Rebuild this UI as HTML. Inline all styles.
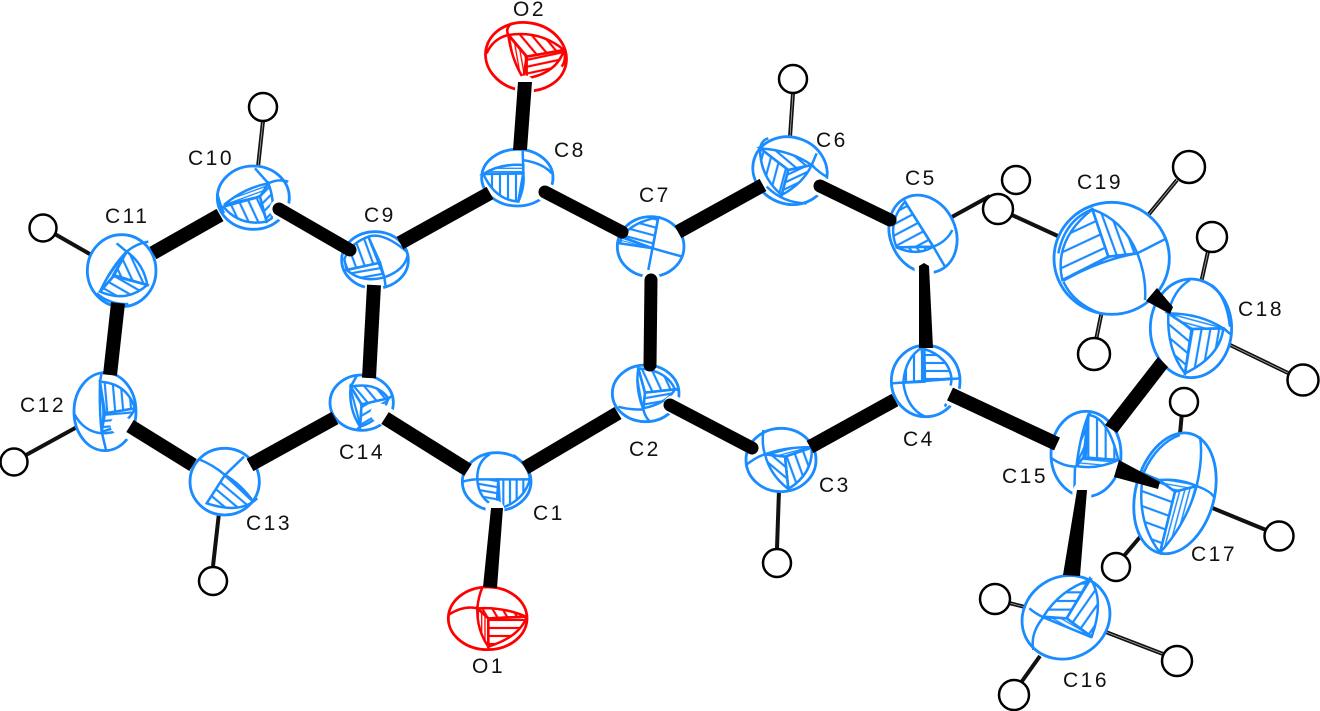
<!DOCTYPE html>
<html><head><meta charset="utf-8"><style>
html,body{margin:0;padding:0;background:#fff}
svg{display:block}
text{font-family:"Liberation Sans",sans-serif;font-size:21px;letter-spacing:2.5px;fill:#111}
.a{fill:#fff;stroke:#1a8cff;stroke-width:8.5}
.a path{stroke-width:7.5}
.o{fill:#fff;stroke:#f00;stroke-width:8.5}
.o path{stroke-width:7.5}
.n{fill:none}
.h circle{fill:#fff;stroke:#000;stroke-width:2.5}
.hb line{stroke:#111;stroke-width:4}
.hi line{stroke:#aaa;stroke-width:.8}
.b line{stroke:#000;stroke-width:14}
.g line{stroke:#000;stroke-width:13;stroke-linecap:round}
.gw line{stroke:#fff;stroke-width:19;stroke-linecap:round}
</style></head><body>
<svg width="1320" height="711" viewBox="0 0 1320 711" xmlns="http://www.w3.org/2000/svg">
<defs>
<g fill="none" stroke="#1a8cff" stroke-width="6.5">
<pattern id="a0" width="24" height="24" patternUnits="userSpaceOnUse"><path d="M0 12H24"/></pattern>
<pattern id="a90" width="24" height="24" patternUnits="userSpaceOnUse" patternTransform="rotate(90)"><path d="M0 12H24"/></pattern>
<pattern id="d15" width="10" height="10" patternUnits="userSpaceOnUse" patternTransform="rotate(-15)"><path d="M0 5H10" stroke-width="4"/></pattern>
<pattern id="a70" width="26" height="26" patternUnits="userSpaceOnUse" patternTransform="rotate(70)"><path d="M0 13H26"/></pattern>
<pattern id="a40" width="24" height="24" patternUnits="userSpaceOnUse" patternTransform="rotate(40)"><path d="M0 12H24"/></pattern>
<pattern id="a65" width="26" height="26" patternUnits="userSpaceOnUse" patternTransform="rotate(65)"><path d="M0 13H26"/></pattern>
<pattern id="m10" width="18" height="18" patternUnits="userSpaceOnUse" patternTransform="rotate(-10)"><path d="M0 9H18"/></pattern>
<pattern id="d80" width="12" height="12" patternUnits="userSpaceOnUse" patternTransform="rotate(80)"><path d="M0 6H12" stroke-width="4"/></pattern>
<pattern id="a50" width="24" height="24" patternUnits="userSpaceOnUse" patternTransform="rotate(50)"><path d="M0 12H24"/></pattern>
<pattern id="n30" width="22" height="22" patternUnits="userSpaceOnUse" patternTransform="rotate(-30)"><path d="M0 11H22"/></pattern>
<pattern id="m75" width="18" height="18" patternUnits="userSpaceOnUse" patternTransform="rotate(75)"><path d="M0 9H18"/></pattern>
<pattern id="n50" width="24" height="24" patternUnits="userSpaceOnUse" patternTransform="rotate(-50)"><path d="M0 12H24"/></pattern>
<pattern id="p10" width="18" height="18" patternUnits="userSpaceOnUse" patternTransform="rotate(10)"><path d="M0 9H18"/></pattern>
<pattern id="v20" width="20" height="20" patternUnits="userSpaceOnUse" patternTransform="rotate(90)"><path d="M0 10H20"/></pattern>
<pattern id="h10" width="10" height="10" patternUnits="userSpaceOnUse"><path d="M0 5H10" stroke-width="4"/></pattern>
<pattern id="d100" width="10" height="10" patternUnits="userSpaceOnUse" patternTransform="rotate(100)"><path d="M0 5H10" stroke-width="4"/></pattern>
<pattern id="a15" width="24" height="24" patternUnits="userSpaceOnUse" patternTransform="rotate(15)"><path d="M0 12H24"/></pattern>
<pattern id="e15" width="8" height="8" patternUnits="userSpaceOnUse" patternTransform="rotate(15)"><path d="M0 4H8" stroke-width="3"/></pattern>
<pattern id="n25" width="18" height="18" patternUnits="userSpaceOnUse" patternTransform="rotate(-25)"><path d="M0 9H18"/></pattern>
<pattern id="a105" width="26" height="26" patternUnits="userSpaceOnUse" patternTransform="rotate(105)"><path d="M0 13H26"/></pattern>
<pattern id="n28" width="30" height="30" patternUnits="userSpaceOnUse" patternTransform="rotate(-28)"><path d="M0 15H30"/></pattern>
<pattern id="q50" width="18" height="18" patternUnits="userSpaceOnUse" patternTransform="rotate(50)"><path d="M0 9H18"/></pattern>
<pattern id="d20" width="10" height="10" patternUnits="userSpaceOnUse" patternTransform="rotate(-20)"><path d="M0 5H10" stroke-width="4"/></pattern>
<pattern id="n45" width="20" height="20" patternUnits="userSpaceOnUse" patternTransform="rotate(-45)"><path d="M0 10H20"/></pattern>
<pattern id="d55" width="10" height="10" patternUnits="userSpaceOnUse" patternTransform="rotate(-55)"><path d="M0 5H10" stroke-width="4"/></pattern>
<pattern id="a30" width="24" height="24" patternUnits="userSpaceOnUse" patternTransform="rotate(30)"><path d="M0 12H24"/></pattern>
<pattern id="a85" width="24" height="24" patternUnits="userSpaceOnUse" patternTransform="rotate(85)"><path d="M0 12H24"/></pattern>
<pattern id="m5" width="18" height="18" patternUnits="userSpaceOnUse" patternTransform="rotate(-5)"><path d="M0 9H18"/></pattern>
<pattern id="e90" width="8" height="8" patternUnits="userSpaceOnUse" patternTransform="rotate(90)"><path d="M0 4H8" stroke-width="3"/></pattern>
<pattern id="n65" width="18" height="18" patternUnits="userSpaceOnUse" patternTransform="rotate(-65)"><path d="M0 9H18"/></pattern>
<pattern id="v26" width="26" height="26" patternUnits="userSpaceOnUse" patternTransform="rotate(90)"><path d="M0 13H26"/></pattern>
<pattern id="f5" width="12" height="12" patternUnits="userSpaceOnUse" patternTransform="rotate(5)"><path d="M0 6H12" stroke-width="4"/></pattern>
<pattern id="h26" width="26" height="26" patternUnits="userSpaceOnUse"><path d="M0 13H26"/></pattern>
<pattern id="n55" width="30" height="30" patternUnits="userSpaceOnUse" patternTransform="rotate(-55)"><path d="M0 15H30"/></pattern>
<pattern id="f30" width="12" height="12" patternUnits="userSpaceOnUse" patternTransform="rotate(30)"><path d="M0 6H12" stroke-width="4"/></pattern>
<pattern id="w20" width="42" height="42" patternUnits="userSpaceOnUse" patternTransform="rotate(20)"><path d="M0 21H42"/></pattern>
<pattern id="n75" width="14" height="14" patternUnits="userSpaceOnUse" patternTransform="rotate(-75)"><path d="M0 7H14" stroke-width="4.5"/></pattern>
<pattern id="f10" width="12" height="12" patternUnits="userSpaceOnUse" patternTransform="rotate(10)"><path d="M0 6H12" stroke-width="4"/></pattern>
<pattern id="g15" width="14" height="14" patternUnits="userSpaceOnUse" patternTransform="rotate(15)"><path d="M0 7H14" stroke-width="4.5"/></pattern>
<pattern id="w40" width="30" height="30" patternUnits="userSpaceOnUse" patternTransform="rotate(40)"><path d="M0 15H30"/></pattern>
<pattern id="a100" width="26" height="26" patternUnits="userSpaceOnUse" patternTransform="rotate(100)"><path d="M0 13H26"/></pattern>
<pattern id="n25w" width="42" height="42" patternUnits="userSpaceOnUse" patternTransform="rotate(-25)"><path d="M0 21H42"/></pattern>
<pattern id="a70b" width="26" height="26" patternUnits="userSpaceOnUse" patternTransform="rotate(70)"><path d="M0 13H26"/></pattern>
</g>
<g fill="none" stroke="#f00" stroke-width="6.5">
<pattern id="r60" width="26" height="26" patternUnits="userSpaceOnUse" patternTransform="rotate(60)"><path d="M0 13H26"/></pattern>
<pattern id="r0" width="24" height="24" patternUnits="userSpaceOnUse"><path d="M0 12H24"/></pattern>
<pattern id="r90" width="10" height="10" patternUnits="userSpaceOnUse" patternTransform="rotate(90)"><path d="M0 5H10" stroke-width="4"/></pattern>
<pattern id="r50" width="26" height="26" patternUnits="userSpaceOnUse" patternTransform="rotate(50)"><path d="M0 13H26"/></pattern>
<pattern id="r12" width="20" height="20" patternUnits="userSpaceOnUse" patternTransform="rotate(-12)"><path d="M0 10H20"/></pattern>
<pattern id="r80" width="12" height="12" patternUnits="userSpaceOnUse" patternTransform="rotate(80)"><path d="M0 6H12" stroke-width="4"/></pattern>
</g>
</defs>
<rect width="1320" height="711" fill="#fff"/>

<g class="hb">
<line x1="793" y1="93" x2="790" y2="137"/><line x1="263" y1="121" x2="258" y2="167"/><line x1="53" y1="233" x2="95" y2="257"/><line x1="26" y1="455" x2="77" y2="427"/><line x1="213" y1="566" x2="219" y2="513"/><line x1="777" y1="548" x2="779" y2="490"/><line x1="950" y1="218" x2="990" y2="196"/><line x1="1012" y1="215" x2="1060" y2="237"/><line x1="1177" y1="180" x2="1140" y2="225"/><line x1="1096" y1="340" x2="1104" y2="301"/><line x1="1209" y1="247" x2="1201" y2="283"/><line x1="1288" y1="373" x2="1226" y2="343"/><line x1="1182" y1="412" x2="1180" y2="434"/><line x1="1266" y1="530" x2="1210" y2="507"/><line x1="1123" y1="557" x2="1140" y2="537"/><line x1="1009" y1="603" x2="1033" y2="609"/><line x1="1163" y1="654" x2="1098" y2="629"/><line x1="1020" y1="684" x2="1040" y2="656"/>
</g>
<g class="hi">
<line x1="793" y1="93" x2="790" y2="137"/><line x1="263" y1="121" x2="258" y2="167"/><line x1="1177" y1="180" x2="1140" y2="225"/><line x1="1096" y1="340" x2="1104" y2="301"/><line x1="1209" y1="247" x2="1201" y2="283"/><line x1="1288" y1="373" x2="1226" y2="343"/><line x1="1009" y1="603" x2="1033" y2="609"/><line x1="1163" y1="654" x2="1098" y2="629"/>
</g>
<g class="h">
<circle cx="1016" cy="180" r="14"/><circle cx="998" cy="209" r="15"/>
<circle cx="793" cy="79" r="14"/><circle cx="263" cy="107" r="14"/><circle cx="43" cy="228" r="13.5"/><circle cx="14" cy="462" r="13.5"/><circle cx="213" cy="581" r="14"/><circle cx="777" cy="563" r="14"/><circle cx="1189" cy="167" r="16"/><circle cx="1212" cy="237" r="15"/><circle cx="1094" cy="354" r="16"/><circle cx="1303" cy="380" r="15.5"/><circle cx="1184" cy="402" r="14"/><circle cx="1279" cy="536" r="14.5"/><circle cx="1116" cy="567" r="14"/><circle cx="995" cy="599" r="15"/><circle cx="1177" cy="661" r="15"/><circle cx="1014" cy="695" r="15"/>
</g>

<!-- C19, C18 -->
<g class="a" transform="translate(1000 150) scale(.3333)">
<ellipse cx="335" cy="325" rx="173" ry="168"/>
<path fill="url(#n25w)" d="M277 178L325 320L187 390Q160 270 277 178Z"/>
<path fill="url(#a70b)" d="M277 178Q370 210 412 310L325 320Z"/>
<path fill="url(#d20)" d="M190 392Q300 330 412 310L325 320Z"/>
<path class="n" d="M412 310L500 265M412 310Q440 380 435 450M190 395Q220 460 300 490M277 178Q195 210 175 310"/>
<ellipse cx="573" cy="535" rx="122" ry="148"/>
<path fill="url(#g15)" d="M505 490Q600 490 670 535L575 537Z"/>
<path fill="url(#w40)" d="M505 490L575 537L555 670Q500 600 505 490Z"/>
<path fill="url(#a100)" d="M575 537L670 535Q660 620 555 670Z"/>
<path class="n" d="M670 535L695 555M505 490Q520 420 570 390M690 530Q680 440 635 405"/>
</g>

<!-- C15, C16, C17 -->
<g class="a" transform="translate(980 380) scale(.3333)">
<ellipse cx="318" cy="222" rx="105" ry="128"/>
<path fill="url(#n65)" d="M325 105Q300 170 290 255L318 225Z"/>
<path fill="url(#v26)" d="M325 105Q385 110 415 240L310 235Z"/>
<path fill="url(#f5)" d="M290 258L310 232L415 240Q350 270 290 258Z"/>
<path class="n" d="M215 235Q250 260 290 260M285 260L283 340M325 105L335 93"/>
<ellipse cx="258" cy="712" rx="135" ry="122" transform="rotate(-30 258 712)"/>
<path fill="url(#h26)" d="M190 710Q240 630 330 600L260 715Z"/>
<path fill="url(#n55)" d="M330 595Q375 660 335 770L260 715Z"/>
<path fill="url(#f30)" d="M190 712L260 715L335 772Z"/>
<path class="n" d="M148 685Q165 700 190 712M190 712Q150 760 160 810"/>
<ellipse cx="585" cy="340" rx="118" ry="185" transform="rotate(15 585 340)"/>
<path fill="url(#f10)" d="M537 300Q600 295 650 318L585 335Z"/>
<path fill="url(#w20)" d="M537 300L490 280Q465 420 540 518L585 335Z"/>
<path fill="url(#n75)" d="M585 335L650 318Q620 430 540 518Z"/>
<path class="n" d="M650 318Q695 335 700 350M650 318Q670 230 660 170M490 280Q530 190 600 165"/>
</g>

<!-- C4 -->
<g class="a" transform="translate(870 335) scale(.3333)">
<ellipse cx="167" cy="138" rx="103" ry="107"/>
<path fill="url(#a90)" d="M100 143Q105 70 155 38L163 140Z"/>
<path fill="url(#a0)" d="M163 42Q235 65 245 130L165 138Z"/>
<path class="n" d="M65 145L270 130M100 143Q110 220 165 245M245 130Q240 180 225 215"/>
</g>
<!-- C3 -->
<g class="a" transform="translate(730 415) scale(.3333)">
<ellipse cx="153" cy="135" rx="105" ry="95"/>
<path fill="url(#a70)" d="M165 125L245 98Q250 175 175 222Z"/>
<path fill="url(#a40)" d="M105 118L165 125L175 222Q120 180 105 118Z"/>
<path fill="url(#d15)" d="M105 118Q170 95 245 97L165 125Z"/>
<path class="n" d="M48 150Q80 125 105 118M100 45Q95 90 105 118"/>
</g>
<!-- C2 -->
<g class="a" transform="translate(590 350) scale(.3333)">
<ellipse cx="167" cy="130" rx="100" ry="85"/>
<path fill="url(#a65)" d="M145 55Q230 60 255 118L165 128Z"/>
<path fill="url(#m10)" d="M165 128L255 118Q230 160 160 175Z"/>
<path fill="url(#d80)" d="M145 55Q135 115 160 178L165 128Z"/>
<path class="n" d="M160 178Q165 200 178 213M265 120L255 118M85 170Q120 180 160 178"/>
</g>
<!-- C14 -->
<g class="a" transform="translate(310 365) scale(.3333)">
<ellipse cx="155" cy="113" rx="95" ry="83"/>
<path fill="url(#a50)" d="M122 65Q200 50 235 100L155 118Z"/>
<path fill="url(#n30)" d="M155 118L235 100Q215 165 150 185Z"/>
<path fill="url(#m75)" d="M122 65Q115 130 150 185L155 118Z"/>
<path class="n" d="M122 65L140 33M235 100L250 90M150 185L140 195"/>
</g>
<!-- C13 -->
<g class="a" transform="translate(170 435) scale(.3333)">
<ellipse cx="164" cy="140" rx="104" ry="100"/>
<path fill="url(#a40)" d="M165 120L250 200Q200 235 110 205Z"/>
<path fill="url(#n50)" d="M165 120Q215 150 250 200Z"/>
<path class="n" d="M85 72Q130 90 165 120M165 120L222 65M250 200L262 190"/>
</g>
<!-- C9 -->
<g class="a" transform="translate(325 220) scale(.3333)">
<ellipse cx="150" cy="120" rx="100" ry="85"/>
<path fill="url(#a70)" d="M58 118Q75 70 130 50L165 128L65 150Z"/>
<path fill="url(#m10)" d="M65 150L165 128L178 172Q110 190 65 150Z"/>
<path class="n" d="M130 50L178 172L182 200M178 172Q240 150 248 105M130 50Q175 35 245 95"/>
</g>
<!-- C1, O1 -->
<g transform="translate(420 440) scale(.3333)">
<g class="a">
<ellipse cx="230" cy="125" rx="103" ry="87"/>
<path fill="url(#p10)" d="M172 118L235 118L230 200Q175 180 172 118Z"/>
<path fill="url(#v20)" d="M235 118L330 118Q310 185 240 205Z"/>
<path class="n" d="M128 125Q150 118 172 118M172 118Q170 65 210 42M280 45Q325 75 330 118"/>
</g>
<g class="o">
<ellipse cx="203" cy="535" rx="118" ry="94"/>
<path fill="url(#r60)" d="M172 505Q250 500 318 530L205 535Z"/>
<path fill="url(#r0)" d="M205 535L320 530Q300 590 205 620Z"/>
<path fill="url(#r90)" d="M172 505Q170 570 205 620L205 535Z"/>
<path class="n" d="M85 525Q130 495 172 505M172 505Q175 470 188 440"/>
</g>
</g>
<!-- O2, C8, C7 -->
<g transform="translate(440 0) scale(.3333)">
<g class="o">
<ellipse cx="258" cy="170" rx="122" ry="102" transform="rotate(10 258 170)"/>
<path fill="url(#r50)" d="M205 105Q300 90 372 150L260 170Z"/>
<path fill="url(#r12)" d="M260 170L372 150Q350 220 260 235Z"/>
<path fill="url(#r80)" d="M205 105Q215 180 250 235L260 170Z"/>
<path class="n" d="M140 160Q160 115 205 105M205 105Q195 85 215 70M372 150Q380 180 365 200"/>
</g>
<g class="a">
<ellipse cx="232" cy="533" rx="107" ry="85"/>
<path fill="url(#h10)" d="M130 522Q180 490 250 495L250 520Z"/>
<path fill="url(#a90)" d="M130 522L250 520L235 605Q165 600 130 522Z"/>
<path fill="url(#d100)" d="M250 520L235 605Q255 560 250 520Z"/>
<path class="n" d="M248 450L250 520M248 480Q310 490 335 520"/>
<ellipse cx="632" cy="740" rx="100" ry="90"/>
<path fill="url(#a15)" d="M545 710Q580 665 655 652L638 745Z"/>
<path fill="url(#e15)" d="M545 712L638 745L540 730Z"/>
<path class="n" d="M655 652L625 810M638 745Q690 760 728 770"/>
</g>
</g>
<!-- C6, C5 -->
<g class="a" transform="translate(720 130) scale(.3333)">
<ellipse cx="210" cy="122" rx="113" ry="100" transform="rotate(20 210 122)"/>
<path fill="url(#a40)" d="M120 55Q210 60 275 105L205 120Z"/>
<path fill="url(#n25)" d="M205 120L275 105Q250 160 185 195Z"/>
<path fill="url(#a105)" d="M120 55Q120 140 185 195L205 120Z"/>
<path class="n" d="M120 55Q125 30 145 25M275 105Q300 130 320 140M275 105L290 70M140 170Q190 220 260 220"/>
<ellipse cx="609" cy="312" rx="98" ry="120" transform="rotate(-25 609 312)"/>
<path fill="url(#n28)" d="M555 215L640 350L530 352Q500 280 555 215Z"/>
<path fill="url(#q50)" d="M530 352L640 350Q590 380 530 352Z"/>
<path class="n" d="M555 215L640 350L675 410M640 350Q680 335 697 300"/>
</g>
<!-- C10, C11, C12 -->
<g class="a" transform="translate(0 150) scale(.3333)">
<ellipse cx="760" cy="143" rx="108" ry="95"/>
<path fill="url(#d20)" d="M672 165Q730 115 805 100L780 140Z"/>
<path fill="url(#a65)" d="M670 170L780 140L800 215Q720 230 670 170Z"/>
<path fill="url(#n45)" d="M780 140L805 100Q825 150 815 205L800 215Z"/>
<path class="n" d="M805 100Q835 85 865 95M805 100L765 55M652 130Q660 165 672 190"/>
<ellipse cx="365" cy="362" rx="103" ry="108"/>
<path fill="url(#a65)" d="M380 305Q430 340 442 405L340 375Z"/>
<path fill="url(#a30)" d="M340 378L442 405Q380 460 300 425Z"/>
<path fill="url(#d55)" d="M380 305Q335 350 300 425L340 380Z"/>
<path class="n" d="M380 305Q410 280 445 275M380 305L350 280M290 430Q330 465 385 462"/>
<ellipse cx="315" cy="785" rx="93" ry="117"/>
<path fill="url(#a85)" d="M300 695Q380 700 405 775L315 790Z"/>
<path fill="url(#m5)" d="M315 790L405 775Q385 825 305 845Z"/>
<path fill="url(#e90)" d="M300 695Q298 790 305 845L312 790Z"/>
<path class="n" d="M305 668L300 695M222 790Q250 845 305 850Q350 850 385 825M305 845L318 900"/>
</g>

<!-- bonds -->
<g class="gw">
<line x1="545" y1="192" x2="600" y2="220"/><line x1="651" y1="280" x2="651" y2="310"/><line x1="924" y1="268" x2="926" y2="300"/><line x1="820" y1="186" x2="850" y2="200"/><line x1="374" y1="290" x2="372" y2="320"/><line x1="495" y1="510" x2="493" y2="530"/><line x1="279" y1="209" x2="300" y2="220"/><line x1="673" y1="405" x2="695" y2="416"/><line x1="950" y1="395" x2="965" y2="402"/><line x1="395" y1="422" x2="380" y2="413"/><line x1="120" y1="425" x2="140" y2="435"/><line x1="525" y1="85" x2="523" y2="105"/><line x1="1082" y1="492" x2="1081" y2="510"/>
</g>
<g class="g">
<line x1="545" y1="192" x2="622" y2="232"/><line x1="651" y1="280" x2="650" y2="365"/><line x1="820" y1="186" x2="890" y2="220"/><line x1="279" y1="209" x2="350" y2="250"/><line x1="670" y1="405" x2="752" y2="448"/>
</g>
<g class="b">
<line x1="525" y1="468" x2="618" y2="413"/><line x1="468" y1="470" x2="385" y2="418"/><line x1="810" y1="447" x2="895" y2="400"/><line x1="678" y1="232" x2="763" y2="185"/><line x1="490" y1="193" x2="400" y2="243"/><line x1="374" y1="285" x2="369" y2="378"/><line x1="220" y1="215" x2="153" y2="253"/><line x1="118" y1="303" x2="110" y2="375"/><line x1="130" y1="426" x2="193" y2="465"/><line x1="250" y1="465" x2="335" y2="418"/><line x1="950" y1="394" x2="1057" y2="444"/>
</g>
<polygon points="919,266 924,263 929,266 933,348 919,348" fill="#000"/>
<polygon points="518,82 532,82 527,150 513,150" fill="#000"/>
<polygon points="491,508 503,508 497,588 483,587" fill="#000"/>
<polygon points="1077,490 1087,490 1080,576 1063,575" fill="#000"/>
<polygon points="1119,460 1114,477 1158,489 1160,482" fill="#000"/>
<polygon points="1158,357 1168,367 1117,433 1105,425" fill="#000"/>
<polygon points="1157,288 1146,301 1170,314 1173,307" fill="#000"/>

<!-- labels -->
<text x="513" y="16">O2</text><text x="554" y="157">C8</text><text x="639" y="202">C7</text><text x="816" y="147">C6</text><text x="905" y="185">C5</text><text x="1077" y="189">C19</text><text x="1238" y="316">C18</text><text x="1002" y="483">C15</text><text x="1191" y="561">C17</text><text x="1063" y="687">C16</text><text x="533" y="520">C1</text><text x="472" y="673">O1</text><text x="188" y="165">C10</text><text x="105" y="223">C11</text><text x="20" y="412">C12</text><text x="364" y="222">C9</text><text x="339" y="459">C14</text><text x="246" y="530">C13</text><text x="629" y="456">C2</text><text x="819" y="492">C3</text><text x="903" y="446">C4</text>
</svg>
</body></html>
